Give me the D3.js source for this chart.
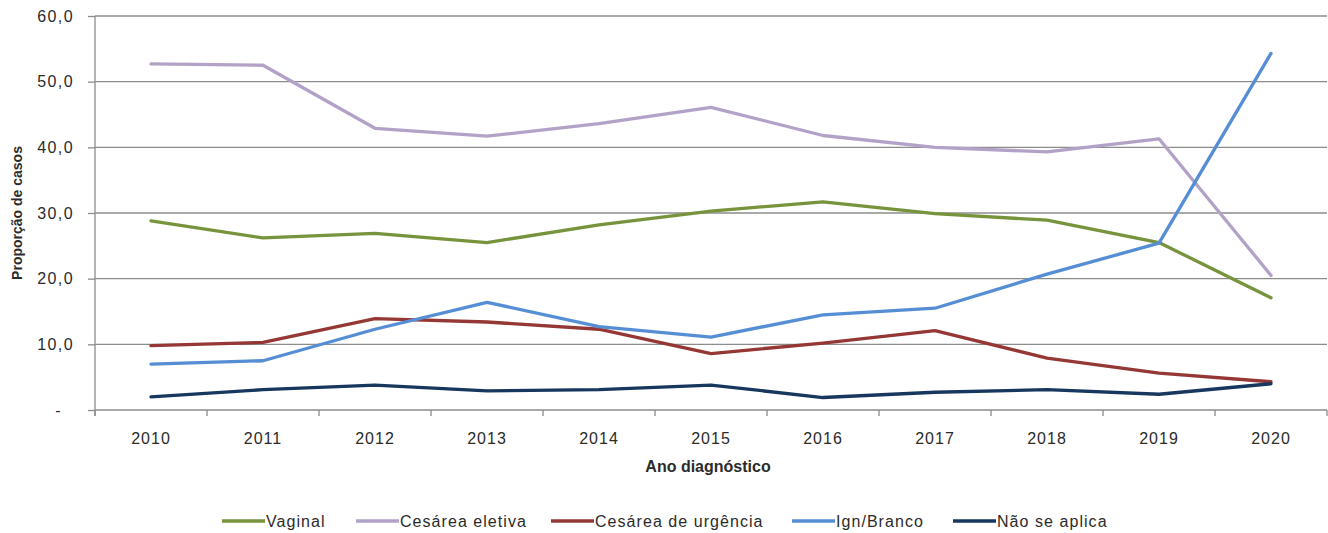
<!DOCTYPE html>
<html>
<head>
<meta charset="utf-8">
<script src="https://cdn.jsdelivr.net/npm/d3@7"></script>
<style>
  html, body { margin: 0; padding: 0; background: #fff; }
  svg { display: block; }
  text { font-family: "Liberation Sans", Arial, sans-serif; fill: #2b2b2b; }
</style>
</head>
<body>
<svg id="chart" width="1328" height="533"></svg>
<script>
// Years on the category axis
const years = ["2010","2011","2012","2013","2014","2015","2016","2017","2018","2019","2020"];

// Share of cases (%) per delivery type
const vaginal        = [28.8, 26.2, 26.9, 25.5, 28.2, 30.3, 31.7, 29.9, 28.9, 25.5, 17.1];
const cesareaEletiva = [52.7, 52.5, 42.9, 41.7, 43.6, 46.1, 41.8, 40.0, 39.3, 41.3, 20.5];
const cesareaUrgencia= [ 9.8, 10.3, 13.9, 13.4, 12.3,  8.6, 10.2, 12.1,  7.9,  5.6,  4.3];
const ignBranco      = [ 7.0,  7.5, 12.3, 16.4, 12.7, 11.1, 14.5, 15.5, 20.7, 25.4, 54.3];
const naoSeAplica    = [ 2.0,  3.1,  3.8,  2.9,  3.1,  3.8,  1.9,  2.7,  3.1,  2.4,  4.0];

const seriesNames = ["Vaginal", "Cesárea eletiva", "Cesárea de urgência", "Ign/Branco", "Não se aplica"];
const seriesValues = [vaginal, cesareaEletiva, cesareaUrgencia, ignBranco, naoSeAplica];
const seriesColors = ["#77933C", "#B3A2C7", "#953735", "#558ED5", "#17375E"];

const yTicks = [0, 10, 20, 30, 40, 50, 60];

const svg = d3.select("#chart");
const margin = { left: 95, right: 1, top: 16, bottom: 123 };
const W = 1328, H = 533;

const x = d3.scaleBand().domain(years).range([margin.left, W - margin.right]);
const y = d3.scaleLinear().domain([0, 60]).range([H - margin.bottom, margin.top]);

const gridColor = "#8c8c8c";

// horizontal gridlines
svg.append("g")
  .selectAll("line")
  .data(yTicks.filter(d => d > 0))
  .join("line")
  .attr("x1", margin.left).attr("x2", W - margin.right)
  .attr("y1", d => y(d)).attr("y2", d => y(d))
  .attr("stroke", gridColor).attr("stroke-width", 1.3);

// y axis (zero shown as a dash, accounting style)
const fmt = d => d === 0 ? "-" : d3.format(".1f")(d).replace(".", ",");
const yAxis = svg.append("g")
  .attr("transform", `translate(${margin.left},0)`)
  .call(d3.axisLeft(y).tickValues(yTicks).tickFormat(fmt).tickSize(7).tickPadding(14));
yAxis.select(".domain").attr("stroke", gridColor).attr("stroke-width", 1.3)
  .attr("d", `M0,${y(60)}V${y(0) + 6}`);
yAxis.selectAll(".tick line").attr("stroke", gridColor).attr("stroke-width", 1.3);
yAxis.selectAll(".tick text")
  .attr("font-size", 16)
  .attr("letter-spacing", 1.4)
  .attr("fill", "#2b2b2b")
  .attr("font-family", "\"Liberation Sans\", Arial, sans-serif");
yAxis.selectAll(".tick").filter(d => d === 0).select("text").attr("dx", -12);

// x axis: ticks at category boundaries
const xAxisG = svg.append("g").attr("transform", `translate(0,${y(0)})`);
xAxisG.append("line")
  .attr("x1", margin.left).attr("x2", W - margin.right)
  .attr("stroke", gridColor).attr("stroke-width", 1.3);
const boundaries = years.map(d => x(d)).concat([x(years[years.length - 1]) + x.bandwidth()]);
xAxisG.selectAll("line.tk")
  .data(boundaries)
  .join("line")
  .attr("class", "tk")
  .attr("x1", d => d).attr("x2", d => d)
  .attr("y1", 0).attr("y2", 6)
  .attr("stroke", gridColor).attr("stroke-width", 1.3);
xAxisG.selectAll("text")
  .data(years)
  .join("text")
  .attr("x", d => x(d) + x.bandwidth() / 2)
  .attr("y", 34)
  .attr("text-anchor", "middle")
  .attr("font-size", 16)
  .attr("letter-spacing", 1)
  .text(d => d);

// axis titles
svg.append("text")
  .attr("x", (margin.left + W - margin.right) / 2 - 3)
  .attr("y", 472)
  .attr("text-anchor", "middle")
  .attr("font-size", 16)
  .attr("font-weight", "bold")
  .text("Ano diagnóstico");

svg.append("text")
  .attr("transform", `translate(22,${(y(0) + y(60)) / 2}) rotate(-90)`)
  .attr("text-anchor", "middle")
  .attr("font-size", 14)
  .attr("font-weight", "bold")
  .text("Proporção de casos");

// series lines
const line = d3.line()
  .x((d, i) => x(years[i]) + x.bandwidth() / 2)
  .y(d => y(d));

svg.append("g")
  .selectAll("path")
  .data(seriesValues)
  .join("path")
  .attr("d", d => line(d))
  .attr("fill", "none")
  .attr("stroke", (d, i) => seriesColors[i])
  .attr("stroke-width", 3.3)
  .attr("stroke-linejoin", "round")
  .attr("stroke-linecap", "round");

// legend
const legendX = [222, 356, 551, 792, 953];
const legend = svg.append("g").attr("transform", "translate(0,521)");
const items = legend.selectAll("g")
  .data(seriesNames)
  .join("g")
  .attr("transform", (d, i) => `translate(${legendX[i]},0)`);
items.append("line")
  .attr("x1", 0).attr("x2", 43)
  .attr("stroke", (d, i) => seriesColors[i])
  .attr("stroke-width", 3.4);
items.append("text")
  .attr("x", 44)
  .attr("y", 6)
  .attr("font-size", 16)
  .attr("letter-spacing", 1.05)
  .text(d => d);
</script>
</body>
</html>
